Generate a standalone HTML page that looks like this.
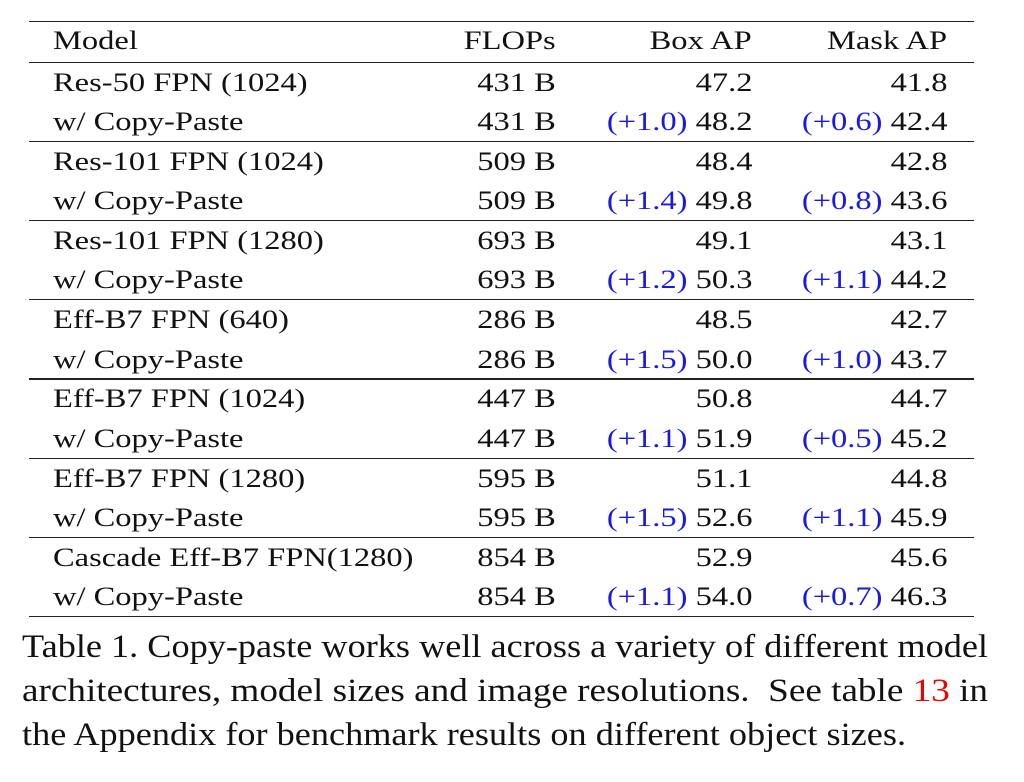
<!DOCTYPE html>
<html><head><meta charset="utf-8"><style>
body{margin:0;background:#fff;width:1024px;height:782px;position:relative;overflow:hidden;font-family:"Liberation Serif",serif;color:#111}
.t{position:absolute;font-size:26px;line-height:26px;white-space:nowrap;transform:scaleX(1.25);transform-origin:left top}
.r{text-align:right;transform-origin:right top}
.rule{position:absolute;left:29px;width:945px;background:#222}
.b{color:#1a1adf}
.cap{position:absolute;left:22px;font-size:33px;line-height:33px;white-space:pre;transform-origin:left top}
</style></head><body>
<div id="tbl"></div>
<div class="cap" id="c1" style="top:631px">Table 1. Copy-paste works well across a variety of different model</div>
<div class="cap" id="c2" style="top:675px">architectures, model sizes and image resolutions.  See table <span style="color:#e00">13</span> in</div>
<div class="cap" id="c3" style="top:719px">the Appendix for benchmark results on different object sizes.</div>
<script>
const models=["Res-50 FPN (1024)","Res-101 FPN (1024)","Res-101 FPN (1280)","Eff-B7 FPN (640)","Eff-B7 FPN (1024)","Eff-B7 FPN (1280)","Cascade Eff-B7 FPN(1280)"];
const flops=["431 B","509 B","693 B","286 B","447 B","595 B","854 B"];
const boxBase=["47.2","48.4","49.1","48.5","50.8","51.1","52.9"];
const boxCP=["48.2","49.8","50.3","50.0","51.9","52.6","54.0"];
const boxGain=["+1.0","+1.4","+1.2","+1.5","+1.1","+1.5","+1.1"];
const maskBase=["41.8","42.8","43.1","42.7","44.7","44.8","45.6"];
const maskCP=["42.4","43.6","44.2","43.7","45.2","45.9","46.3"];
const maskGain=["+0.6","+0.8","+1.1","+1.0","+0.5","+1.1","+0.7"];
const root=document.getElementById('tbl');
function rule(y,name){const d=document.createElement('div');d.className='rule';d.style.top=y+'px';d.style.height='1.4px';


root.appendChild(d);}
function txt(html,x,base,right,name){const d=document.createElement('div');d.className='t'+(right?' r':'');d.innerHTML=html;d.style.top=(base-22)+'px';
if(right){d.style.right=(1024-x)+'px';}else{d.style.left=x+'px';}


root.appendChild(d);}
rule(21,'top-rule');rule(61.5,'header-rule');
txt('Model',53,50,false,'header-model');
txt('FLOPs',556,50,true,'header-flops');
txt('Box AP',752,50,true,'header-box-ap');
txt('Mask AP',947,50,true,'header-mask-ap');
const step=79.2;
for(let i=0;i<models.length;i++){
 const r=61.5+step*i;
 const b1=r+30,b2=r+69.5;
 txt(models[i],53,b1,false,'model-name');
 txt(flops[i],556,b1,true,'flops-value');
 txt(boxBase[i],752,b1,true,'box-ap-value');
 txt(maskBase[i],947,b1,true,'mask-ap-value');
 txt('w/ Copy-Paste',53,b2,false,'copy-paste-label');
 txt(flops[i],556,b2,true,'flops-value');
 txt('<span class="b">('+boxGain[i]+')</span> '+boxCP[i],752,b2,true,'box-ap-copy-paste');
 txt('<span class="b">('+maskGain[i]+')</span> '+maskCP[i],947,b2,true,'mask-ap-copy-paste');
 rule(61.5+step*(i+1),i==models.length-1?'bottom-rule':'group-rule');
}
const c1=document.getElementById('c1'),c2=document.getElementById('c2'),c3=document.getElementById('c3');
const s1=966/c1.getBoundingClientRect().width;
const s2=966/c2.getBoundingClientRect().width;
c1.style.transform='scaleX('+s1+')';
c2.style.transform='scaleX('+s2+')';
c3.style.transform='scaleX('+s1+')';
</script>
</body></html>
